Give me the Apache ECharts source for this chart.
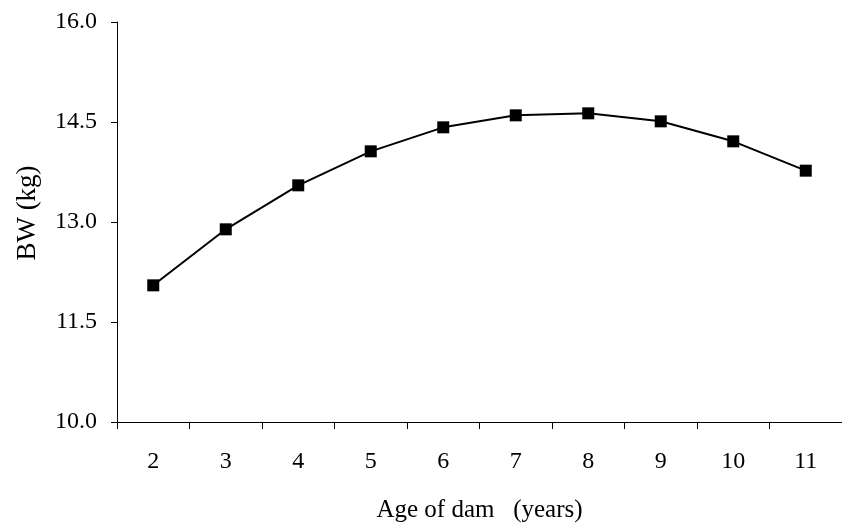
<!DOCTYPE html>
<html lang="en">
<head>
    <meta charset="UTF-8">
    <title>BW by age of dam</title>
    <script src="https://cdn.jsdelivr.net/npm/echarts@6/dist/echarts.min.js"></script>
    <style>
        html, body { margin: 0; padding: 0; background: #fff; }
    </style>
</head>
<body>
    <div id="ec" style="width:842px;height:528px"></div>
</body>
<script>
    // data
    var ages = ['2', '3', '4', '5', '6', '7', '8', '9', '10', '11']
    var bw = [12.05, 12.89, 13.55, 14.06, 14.42, 14.60, 14.63, 14.51, 14.21, 13.77]

    var font = '"Liberation Serif", "Times New Roman", serif'
    var mychart = echarts.init(document.getElementById("ec"))
    var options = {
        animation: false,
        grid: { left: 117, right: -2, top: 22, bottom: 106, containLabel: false },
        xAxis: {
            type: 'category',
            data: ages,
            name: 'Age of dam   (years)',
            nameLocation: 'middle',
            nameGap: 76,
            nameTextStyle: { fontFamily: font, fontSize: 25, color: '#000' },
            axisLine: { lineStyle: { color: '#000', width: 1 } },
            axisTick: { show: true, length: 7, lineStyle: { color: '#000' } },
            axisLabel: { margin: 28, fontFamily: font, fontSize: 24, color: '#000' },
            splitLine: { show: false }
        },
        yAxis: {
            type: 'value',
            min: 10,
            max: 16,
            interval: 1.5,
            name: 'BW (kg)',
            nameLocation: 'middle',
            nameGap: 76,
            nameTextStyle: { fontFamily: font, fontSize: 27, color: '#000', padding: [0, 0, 0, 18] },
            axisLine: { show: true, lineStyle: { color: '#000', width: 1 } },
            axisTick: { show: true, length: 6, lineStyle: { color: '#000' } },
            axisLabel: {
                margin: 20, fontFamily: font, fontSize: 24, color: '#000',
                formatter: function (v) { return v.toFixed(1) }
            },
            splitLine: { show: false }
        },
        series: [{
            type: 'line',
            data: bw,
            symbol: 'rect',
            symbolSize: 12,
            showAllSymbol: true,
            lineStyle: { color: '#000', width: 2 },
            itemStyle: { color: '#000' }
        }]
    }
    mychart.setOption(options)
</script>
</html>
